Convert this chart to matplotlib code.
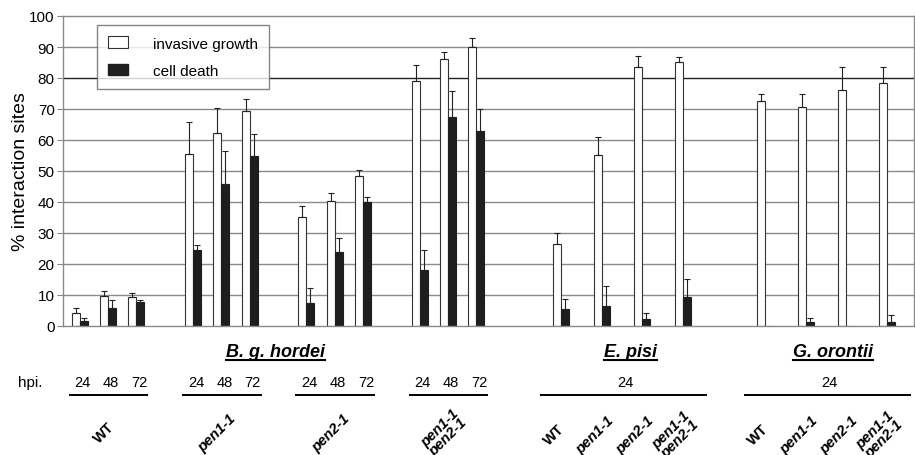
import matplotlib
matplotlib.use("Agg")
import matplotlib.pyplot as plt
from matplotlib.lines import Line2D
from matplotlib.patches import Patch
from matplotlib.transforms import blended_transform_factory
import numpy as np

plt.rcParams["font.family"] = ["Liberation Sans", "DejaVu Sans"]

# B. g. hordei: WT, pen1-1, pen2-1, pen1-1 pen2-1 at 24/48/72 hpi
bgh_genotypes = ["WT", "pen1-1", "pen2-1", "pen1-1\npen2-1"]
bgh_hpi = ["24", "48", "72"]
bgh_growth = [4.1, 9.7, 9.4, 55.5, 62.4, 69.2, 35.1, 40.3, 48.3, 78.9, 86.1, 89.9]
bgh_growth_sd = [1.8, 1.5, 1.1, 10.2, 7.9, 4.0, 3.5, 2.5, 1.9, 5.2, 2.4, 3.0]
bgh_death = [1.6, 5.7, 7.8, 24.6, 45.9, 54.7, 7.3, 24.0, 40.0, 18.1, 67.3, 62.9]
bgh_death_sd = [1.1, 2.6, 0.6, 1.6, 10.6, 7.2, 5.0, 4.4, 1.7, 6.5, 8.6, 7.1]

# E. pisi and G. orontii at 24 hpi
genotypes = ["WT", "pen1-1", "pen2-1", "pen1-1\npen2-1"]
episi_growth = [26.6, 55.2, 83.5, 85.2]
episi_growth_sd = [3.4, 5.9, 3.7, 1.5]
episi_death = [5.6, 6.4, 2.4, 9.3]
episi_death_sd = [3.2, 6.6, 1.9, 6.0]
gor_growth = [72.5, 70.6, 76.1, 78.3]
gor_growth_sd = [2.3, 4.4, 7.4, 5.2]
gor_death = [0.0, 1.3, 0.0, 1.3]
gor_death_sd = [0.0, 1.4, 0.0, 2.4]

W, H = 915, 456
fig = plt.figure(figsize=(W / 100, H / 100), dpi=100)
ax = fig.add_axes([63 / W, 1 - 327 / H, 851 / W, 310 / H])

# layout: x in axis pixel units
bgh_x = [16.7 + 113.3 * g + 28.3 * t for g in range(4) for t in range(3)]
episi_x = [498 + 40.5 * k for k in range(4)]
gor_x = [702 + 40.5 * k for k in range(4)]
bw = 8

x_all = np.array(bgh_x + episi_x + gor_x)
growth = np.array(bgh_growth + episi_growth + gor_growth)
growth_sd = np.array(bgh_growth_sd + episi_growth_sd + gor_growth_sd)
death = np.array(bgh_death + episi_death + gor_death)
death_sd = np.array(bgh_death_sd + episi_death_sd + gor_death_sd)

for yv in range(10, 100, 10):
    ax.axhline(yv, color="#222222" if yv == 80 else "#8a8a8a", lw=1.0, zorder=0)

ax.bar(x_all - bw / 2, growth, bw, color="white", edgecolor="#333333", lw=0.8,
       zorder=2, label="invasive growth")
ax.bar(x_all + bw / 2, death, bw, color="#1e1e1e", edgecolor="#1e1e1e", lw=0.8,
       zorder=2, label="cell death")

ek = dict(fmt="none", ecolor="#222222", elinewidth=0.8, capsize=2, capthick=0.8, zorder=3)
ax.errorbar(x_all - bw / 2, growth, yerr=[np.zeros_like(growth), growth_sd], **ek)
m = death > 0
ax.errorbar((x_all + bw / 2)[m], death[m], yerr=[np.zeros(m.sum()), death_sd[m]], **ek)

ax.set_xlim(0, 851)
ax.set_ylim(0, 100)
ax.set_yticks(range(0, 101, 10))
ax.set_xticks([])
ax.tick_params(axis="y", labelsize=11, length=4, color="#888888", pad=2)
for s in ax.spines.values():
    s.set_color("#8a8a8a")
    s.set_linewidth(1.0)
ax.set_ylabel("% interaction sites", fontsize=14, labelpad=0)

leg = ax.legend(handles=[Patch(facecolor="white", edgecolor="#333333", lw=0.8),
                         Patch(facecolor="#1e1e1e", edgecolor="#1e1e1e")],
                labels=["invasive growth", "cell death"],
                loc="upper left", bbox_to_anchor=((97 - 63) / 851, 1 - (26 - 17) / 310),
                fontsize=11, frameon=True, fancybox=False, borderpad=0.75,
                labelspacing=0.85, handlelength=1.3, handleheight=0.8,
                handletextpad=1.6, borderaxespad=0)
leg.get_frame().set_edgecolor("#666666")
leg.get_frame().set_linewidth(1.0)

# annotations below the axis: x in data units, y in figure pixels
tr = blended_transform_factory(ax.transData, fig.transFigure)


def fy(py):
    return 1 - py / H


titles = [("B. g. hordei", 212), ("E. pisi", 567), ("G. orontii", 770)]
title_texts = []
for name, xc in titles:
    t = fig.text(xc, fy(357), name, transform=tr, ha="center", va="baseline",
                 fontsize=13, fontweight="bold", fontstyle="italic")
    title_texts.append(t)

fig.text(18 / W, fy(387), "hpi.", ha="left", va="baseline", fontsize=11)

lab = dict(transform=tr, ha="center", va="center", rotation=45, fontsize=10.5,
           fontweight="bold", linespacing=0.85)

for g in range(4):
    xs = bgh_x[g * 3:g * 3 + 3]
    for t, x in enumerate(xs):
        fig.text(x + 3, fy(387), bgh_hpi[t], transform=tr, ha="center",
                 va="baseline", fontsize=10.5)
    fig.add_artist(Line2D([xs[0] - 10, xs[-1] + 11], [fy(396), fy(396)],
                          transform=tr, color="black", lw=1.4))
    style = "normal" if bgh_genotypes[g] == "WT" else "italic"
    fig.text(xs[1] - 4, fy(433), bgh_genotypes[g], fontstyle=style, **lab)

for xs in (episi_x, gor_x):
    fig.text((xs[0] + xs[-1]) / 2 + 4, fy(387), "24", transform=tr,
             ha="center", va="baseline", fontsize=10.5)
    fig.add_artist(Line2D([xs[0] - 20, xs[-1] + 23], [fy(396), fy(396)],
                          transform=tr, color="black", lw=1.4))
    for k, x in enumerate(xs):
        style = "normal" if genotypes[k] == "WT" else "italic"
        fig.text(x - 7, fy(435), genotypes[k], fontstyle=style, **lab)

# underline the species names
fig.canvas.draw()
r = fig.canvas.get_renderer()
for t in title_texts:
    bb = t.get_window_extent(r)
    fig.add_artist(Line2D([bb.x0 / W, bb.x1 / W], [fy(361), fy(361)],
                          transform=fig.transFigure, color="black", lw=1.5))

fig.savefig("out.png", dpi=100)
